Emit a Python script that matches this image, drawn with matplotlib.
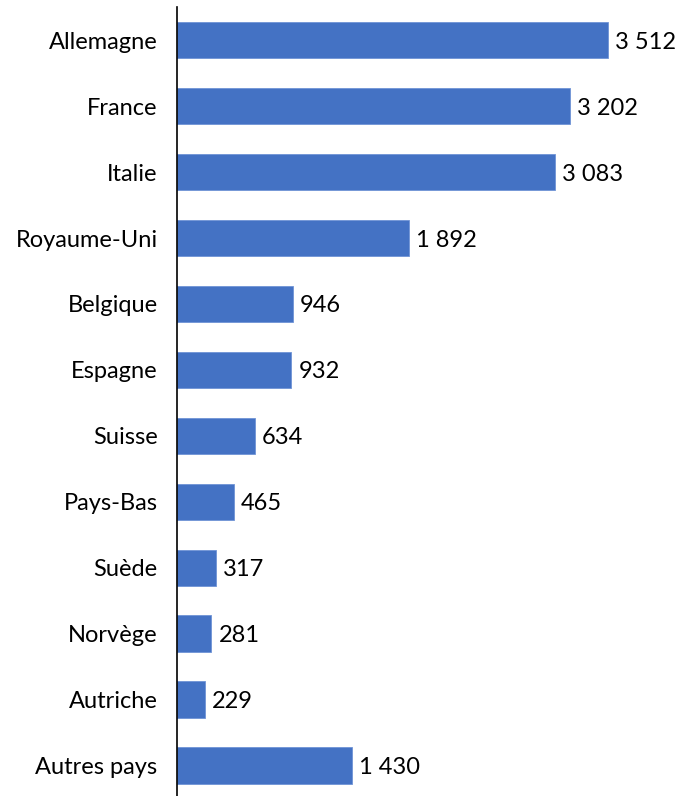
import matplotlib.pyplot as plt

pays = ['Allemagne', 'France', 'Italie', 'Royaume-Uni', 'Belgique', 'Espagne',
        'Suisse', 'Pays-Bas', 'Suède', 'Norvège', 'Autriche', 'Autres pays']
valeurs = [3512, 3202, 3083, 1892, 946, 932, 634, 465, 317, 281, 229, 1430]

plt.rcParams['font.family'] = ['Lato', 'DejaVu Sans']

fig = plt.figure(figsize=(6.79, 7.96), dpi=100)
ax = fig.add_axes([177 / 679, -0.003, (660 - 177) / 679, 0.9938])

y = list(range(len(pays)))
ax.barh(y, valeurs, height=0.55, color='#4472C4', edgecolor='#6f94d6', linewidth=0.6)
ax.set_ylim(len(pays) - 0.5, -0.5)
ax.set_xlim(0, 3512 * (660 - 177) / (608 - 177))

ax.set_yticks(y)
ax.set_yticklabels(pays, fontsize=17)
ax.tick_params(axis='y', length=0, pad=14)
ax.set_xticks([])

for s in ['top', 'right', 'bottom']:
    ax.spines[s].set_visible(False)
ax.spines['left'].set_linewidth(1.2)

for yi, v in zip(y, valeurs):
    txt = f"{v:,}".replace(',', ' ')
    ax.annotate(txt, (v, yi), xytext=(5, 0), textcoords='offset points',
                va='center_baseline', ha='left', fontsize=17)

fig.savefig('out.png', dpi=100)
